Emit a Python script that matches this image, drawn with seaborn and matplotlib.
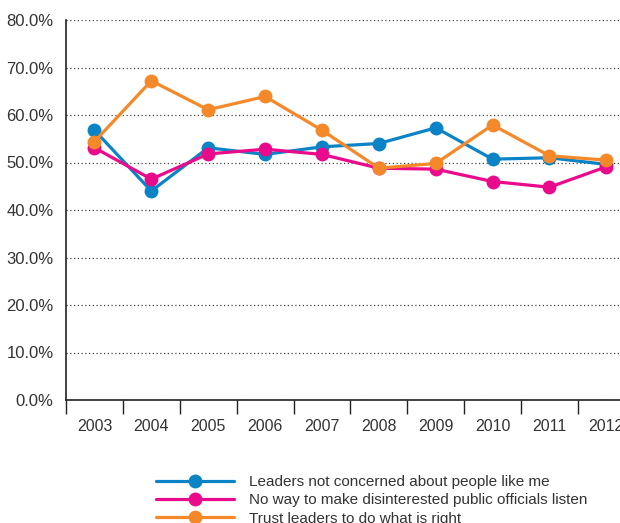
import matplotlib
matplotlib.use("Agg")
import matplotlib.pyplot as plt
import seaborn as sns
import pandas as pd
from matplotlib.lines import Line2D
from matplotlib.ticker import FixedLocator, PercentFormatter

years = ["2003", "2004", "2005", "2006", "2007", "2008", "2009", "2010", "2011", "2012"]
not_concerned = [56.8, 44.0, 53.1, 51.7, 53.3, 54.0, 57.3, 50.7, 51.0, 49.6]
no_way_listen = [53.1, 46.5, 51.8, 52.8, 51.7, 48.8, 48.6, 46.0, 44.8, 49.1]
trust_leaders = [54.4, 67.2, 61.1, 63.9, 56.8, 48.8, 49.8, 57.9, 51.4, 50.5]
series_names = [
    "Leaders not concerned about people like me",
    "No way to make disinterested public officials listen",
    "Trust leaders to do what is right",
]
colors = ["#0a84c6", "#ea0a8c", "#f5892a"]

rows = []
for name, vals in zip(series_names, [not_concerned, no_way_listen, trust_leaders]):
    for i, (yr, v) in enumerate(zip(years, vals)):
        rows.append({"pos": i, "year": yr, "value": v, "series": name})
df = pd.DataFrame(rows)

sns.set_style("white")
plt.rcParams["font.family"] = ["Liberation Sans", "DejaVu Sans"]
text_color = "#333333"

fig = plt.figure(figsize=(6.2, 5.23), dpi=100)
ax = fig.add_axes([66 / 620, 1 - 400 / 523, 1 - 66 / 620, 380 / 523])

sns.lineplot(data=df, x="pos", y="value", hue="series", palette=colors,
             marker="o", markersize=10, markeredgewidth=0, linewidth=2.3,
             ax=ax, legend=False)

ax.set_ylim(0, 80)
ax.set_xlim(-0.5, 9.24)
ax.set_yticks(range(0, 81, 10))
ax.yaxis.set_major_formatter(PercentFormatter(decimals=1))
ax.grid(axis="y", linestyle=(0, (1, 2)), color="#444444", linewidth=0.9)
ax.grid(axis="x", visible=False)
ax.set_axisbelow(True)

# category boundaries as major ticks, labels at centres
ax.xaxis.set_major_locator(FixedLocator([i - 0.5 for i in range(10)]))
ax.xaxis.set_major_formatter(plt.NullFormatter())
ax.set_xticks(range(10), minor=True)
ax.set_xticklabels(years, minor=True)
ax.tick_params(axis="x", which="major", bottom=True, direction="out", length=10,
               width=1, color="#222222")
ax.tick_params(axis="x", which="minor", bottom=True, length=0, pad=14,
               labelsize=11.5, labelcolor=text_color)
ax.tick_params(axis="y", length=0, pad=9, labelsize=12, labelcolor=text_color)

for side in ["top", "right"]:
    ax.spines[side].set_visible(False)
for side in ["left", "bottom"]:
    ax.spines[side].set_color("#222222")
    ax.spines[side].set_linewidth(1.2)
ax.set_xlabel("")
ax.set_ylabel("")

handles = [Line2D([], [], color=c, linewidth=2.3, marker="o", markersize=10,
                  markeredgewidth=0) for c in colors]
fig.legend(handles, series_names, loc="upper left", bbox_to_anchor=(150 / 620, 1 - 469 / 523),
           frameon=False, fontsize=11, handlelength=5.1, handletextpad=1.0,
           labelspacing=0.28, labelcolor=text_color, borderaxespad=0, numpoints=1)

fig.savefig("out.png", dpi=100)
